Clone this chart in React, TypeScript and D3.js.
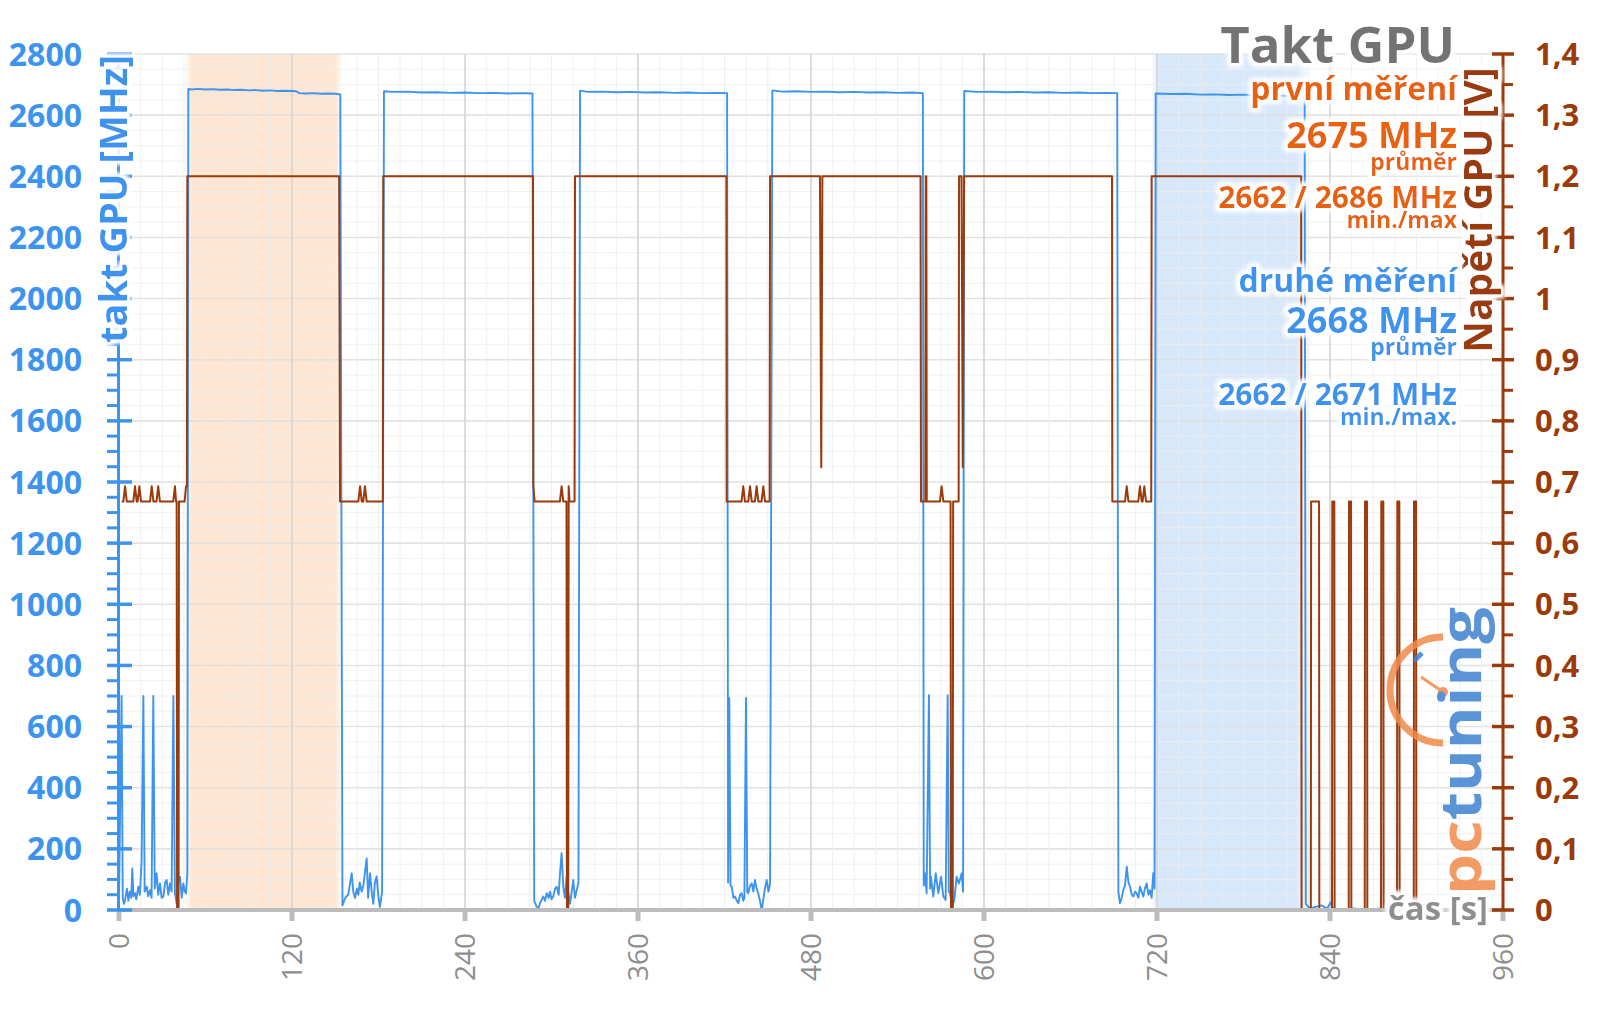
import React from 'react';
import * as d3 from 'd3';

// time [s] / GPU clock [MHz]
const clockIdle1: [number, number][] = [
  [0, 30], [1.8, 700], [2.6, 40], [3.4, 20], [4.2, 33], [5.5, 70], [6.5, 30], [7.5, 60], [8.5, 40], [9.2, 136],
  [10, 45], [11.1, 55], [12, 35], [13.4, 76], [14.5, 50], [15.7, 164], [16.9, 700], [17.8, 60], [19.2, 76],
  [20.3, 45], [21.5, 65], [22.6, 40], [23.8, 700], [24.8, 70], [26.1, 120], [27.2, 50], [28.4, 87], [29.6, 40],
  [30.8, 44], [32, 90], [33.1, 98], [34.2, 50], [35.4, 87], [36.5, 60], [37.7, 700], [38.8, 55], [40, 20],
  [41.2, 100], [42.3, 109], [43.5, 40], [44.6, 87], [45.6, 60], [46.5, 55], [47.4, 120],
];
const clockLoad1: [number, number][] = [
  [48.1, 2686], [50, 2684], [55, 2686], [60, 2684], [65, 2685], [70, 2683], [75, 2684], [80, 2682], [85, 2683],
  [90, 2681], [95, 2682], [100, 2680], [105, 2681], [110, 2679], [115, 2680], [120, 2679], [123, 2678],
  [125, 2672], [130, 2671], [135, 2672], [140, 2670], [145, 2671], [150, 2670], [153.5, 2668],
];
const clockIdle2: [number, number][] = [
  [155, 15], [157, 40], [159, 50], [161.4, 120], [162.5, 60], [163.7, 40], [165, 70], [166, 50], [167, 90],
  [168.3, 60], [169.5, 80], [171.8, 169], [172.8, 40], [174.1, 120], [175.5, 50], [176.4, 20], [177.5, 90],
  [178.7, 110], [180, 40], [181, 10], [182.5, 60],
];
const clockLoad2: [number, number][] = [
  [183.8, 2678], [190, 2676], [200, 2677], [210, 2674], [220, 2675], [230, 2673], [240, 2674], [250, 2672],
  [260, 2673], [270, 2671], [280, 2672], [286.8, 2671],
];
const clockIdle3: [number, number][] = [
  [288, 30], [289.7, 11], [291, 5], [292, 22], [294.3, 44], [295.5, 30], [296.7, 55], [298, 40], [299, 60],
  [300, 35], [301.2, 44], [302.5, 70], [303.6, 76], [305, 50], [305.9, 120], [307, 186], [308.2, 76],
  [309.3, 40], [310.5, 110], [311.5, 60], [312.8, 20], [314, 60], [315.1, 98], [316.3, 40], [317.5, 65],
  [318.7, 90],
];
const clockLoad3: [number, number][] = [
  [319.8, 2680], [325, 2676], [335, 2677], [345, 2675], [355, 2676], [365, 2674], [375, 2675], [385, 2673],
  [395, 2674], [405, 2672], [415, 2673], [421.8, 2672],
];
const clockIdle4: [number, number][] = [
  [422.5, 90], [423.3, 694], [424.2, 80], [425, 76], [426.2, 40], [427.3, 44], [428.5, 30], [429.6, 22],
  [430.8, 50], [431.9, 55], [433, 30], [433.8, 40], [434.9, 694], [435.8, 60], [436.5, 55], [437.8, 80],
  [438.9, 87], [440, 60], [441.1, 98], [442.3, 70], [443.4, 55], [444.6, 30], [445.8, 0], [446.9, 33],
  [448, 70], [449.3, 98], [450.5, 60], [451.6, 87],
];
const clockLoad4: [number, number][] = [
  [453.2, 2681], [460, 2677], [470, 2678], [480, 2676], [490, 2677], [500, 2675], [510, 2676], [520, 2674],
  [530, 2675], [540, 2673], [550, 2674], [557.6, 2672],
];
const clockIdle5: [number, number][] = [
  [558.2, 80], [559, 120], [560.2, 55], [561.8, 703], [562.6, 70], [563.2, 109], [564.8, 44], [566.5, 120],
  [568.3, 55], [570.2, 109], [571.8, 44], [573.4, 33], [574.8, 703], [575.6, 60], [576.4, 55], [578, 11],
  [579.4, 33], [581, 109], [582.6, 87], [584.5, 120], [585.5, 60],
];
const clockLoad5: [number, number][] = [
  [586.3, 2679], [595, 2676], [605, 2677], [615, 2675], [625, 2676], [635, 2674], [645, 2675], [655, 2673],
  [665, 2674], [675, 2672], [685, 2673], [692.4, 2672],
];
const clockIdle6: [number, number][] = [
  [693.2, 60], [694.3, 22], [695.5, 40], [696.6, 65], [697.8, 80], [699, 142], [700.2, 90], [701.3, 76],
  [702.5, 50], [703.6, 44], [704.8, 60], [705.9, 55], [707, 40], [708.2, 76], [709.3, 60], [710.5, 44],
  [711.6, 70], [712.8, 87], [714, 50], [715.1, 65], [716.3, 40], [717.4, 120], [718.3, 70],
];
const clockLoad6: [number, number][] = [
  [719.1, 2671], [730, 2669], [740, 2670], [750, 2667], [760, 2668], [770, 2666], [780, 2667], [790, 2664],
  [800, 2665], [810, 2663], [818, 2662], [822.4, 2660],
];
const clockTail: [number, number][] = [
  [823.2, 20], [826, 5], [830, 10], [834, 15], [838, 5], [840.5, 25], [842, 5], [848, 0], [856, 5], [866, 0], [875, 5],
];

// time [s] / GPU voltage [V]
const voltPart1: [number, number][] = [
  [1.9, 0.668], [3.0, 0.668], [4.2, 0.693], [5.4, 0.668], [9.9, 0.668], [11.1, 0.693], [12.3, 0.668],
  [12.9, 0.668], [14.1, 0.693], [15.3, 0.668], [21.5, 0.668], [22.7, 0.693], [23.9, 0.668], [26.0, 0.668],
  [27.2, 0.693], [28.4, 0.668], [37.6, 0.668], [38.8, 0.693], [39.6, 0.668], [40, 0.668], [40.3, 0], [41.3, 0],
  [41.6, 0.668], [45.5, 0.668], [46.5, 0.693], [47.1, 0.693], [47.4, 1.2], [152.7, 1.2], [153.3, 0.668],
  [166, 0.668], [167.2, 0.693], [168.4, 0.668], [169.4, 0.668], [170.6, 0.693], [171.8, 0.668], [183, 0.668],
  [183.3, 1.2],
];
const voltPart2: [number, number][] = [
  [287.2, 1.2], [287.4, 0.693], [288.3, 0.668], [305.8, 0.668], [307, 0.693], [308.2, 0.668], [310.4, 0.668],
  [310.7, 0], [311.6, 0], [311.9, 0.693], [312.5, 0.668], [316, 0.668], [316.3, 1.2], [421.3, 1.2],
  [421.5, 0.668], [431.8, 0.668], [433, 0.693], [434.2, 0.668], [436.5, 0.668], [437.7, 0.693], [438.9, 0.668],
  [441.1, 0.668], [442.3, 0.693], [443.5, 0.668], [445.7, 0.668], [446.9, 0.693], [448.1, 0.668],
  [451.3, 0.668], [451.6, 1.2],
];
const voltPart3: [number, number][] = [
  [486.2, 1.2], [487.1, 0.724], [487.9, 1.2], [556, 1.2], [556.3, 0.668], [559.3, 0.668], [559.6, 1.2],
  [560, 1.2], [560.3, 0.668], [569.4, 0.668], [570.6, 0.693], [571.8, 0.668], [576.8, 0.668], [577.1, 0],
  [578.3, 0], [578.6, 0.668], [582.4, 0.668], [582.7, 1.2], [584.4, 1.2], [585.3, 0.724], [586.2, 1.2],
  [688.8, 1.2], [689, 0.668], [697.8, 0.668], [699, 0.693], [700.2, 0.668], [707, 0.668], [708.2, 0.693],
  [709.4, 0.668], [710, 0.668], [711.2, 0.693], [712.4, 0.668], [716, 0.668], [716.3, 1.2],
];
const voltTail: [number, number][] = [
  [820, 1.2], [820.3, 0], [826.7, 0], [826.9, 0.668], [832.4, 0.668], [832.6, 0],
  [841.4, 0], [841.6, 0.668], [843, 0.668], [843.2, 0], [853, 0], [853.2, 0.668], [854.6, 0.668], [854.8, 0],
  [864.1, 0], [864.3, 0.668], [865.7, 0.668], [865.9, 0], [875.4, 0], [875.6, 0.668], [877, 0.668], [877.2, 0],
  [886.5, 0], [886.7, 0.668], [888.1, 0.668], [888.3, 0], [898.1, 0], [898.3, 0.668], [899.7, 0.668], [899.9, 0],
];

const firstRun = [48, 152.5];
const secondRun = [718.5, 820.5];

const clockTicks = [0, 200, 400, 600, 800, 1000, 1200, 1400, 1600, 1800, 2000, 2200, 2400, 2600, 2800];
const voltTicks = [0, 0.1, 0.2, 0.3, 0.4, 0.5, 0.6, 0.7, 0.8, 0.9, 1, 1.1, 1.2, 1.3, 1.4];
const voltTickLabels = ['0', '0,1', '0,2', '0,3', '0,4', '0,5', '0,6', '0,7', '0,8', '0,9', '1', '1,1', '1,2', '1,3', '1,4'];
const timeTicks = [0, 120, 240, 360, 480, 600, 720, 840, 960];

const BLUE = '#3d94ef';
const BROWN = '#9b3a0b';
const ORANGE = '#e8620e';
const FONT = "'Open Sans', sans-serif";

export default function App() {
  const x = d3.scaleLinear().domain([0, 960]).range([119, 1503]);
  const yL = d3.scaleLinear().domain([0, 2800]).range([910, 54]);
  const yR = d3.scaleLinear().domain([0, 1.4]).range([910, 54]);

  const clockSeries = [
    ...clockIdle1, ...clockLoad1, ...clockIdle2, ...clockLoad2, ...clockIdle3, ...clockLoad3,
    ...clockIdle4, ...clockLoad4, ...clockIdle5, ...clockLoad5, ...clockIdle6, ...clockLoad6, ...clockTail,
  ];
  const voltSeries = [...voltPart1, ...voltPart2, ...voltPart3, ...voltTail];

  const clockLine = d3.line<[number, number]>().x((d) => x(d[0])).y((d) => yL(d[1]));
  const voltLine = d3.line<[number, number]>().x((d) => x(d[0])).y((d) => yR(d[1]));

  const minorT = d3.range(0, 961, 15);
  const minorC = d3.range(0, 2801, 50);
  const minorV = d3.range(0, 1.401, 0.05);

  const halo = { filter: 'url(#halo)' };

  return (
    <svg width={1600} height={1009} style={{ position: 'absolute', left: 0, top: 0, background: '#fff' }} fontFamily={FONT}>
      <defs>
        <filter id="halo" x="-20%" y="-30%" width="140%" height="160%">
          <feMorphology in="SourceAlpha" operator="dilate" radius="3" result="d" />
          <feGaussianBlur in="d" stdDeviation="2" result="b" />
          <feFlood floodColor="#ffffff" />
          <feComposite in2="b" operator="in" result="w" />
          <feMerge>
            <feMergeNode in="w" />
            <feMergeNode in="w" />
            <feMergeNode in="SourceGraphic" />
          </feMerge>
        </filter>
        <linearGradient id="bandOrange" x1="0" x2="1" y1="0" y2="0">
          <stop offset="0" stopColor="#fde6d3" stopOpacity="0" />
          <stop offset="0.05" stopColor="#fde6d3" />
          <stop offset="0.95" stopColor="#fde6d3" />
          <stop offset="1" stopColor="#fde6d3" stopOpacity="0" />
        </linearGradient>
        <linearGradient id="bandBlue" x1="0" x2="1" y1="0" y2="0">
          <stop offset="0" stopColor="#d8e8fb" stopOpacity="0" />
          <stop offset="0.05" stopColor="#d8e8fb" />
          <stop offset="0.9" stopColor="#d8e8fb" />
          <stop offset="1" stopColor="#d8e8fb" stopOpacity="0" />
        </linearGradient>
      </defs>

      {/* highlighted measurement windows */}
      <rect x={x(firstRun[0]) - 4} y={54} width={x(firstRun[1]) - x(firstRun[0]) + 8} height={856} fill="url(#bandOrange)" />
      <rect x={x(secondRun[0]) - 4} y={54} width={x(secondRun[1]) - x(secondRun[0]) + 14} height={856} fill="url(#bandBlue)" />

      {/* grid */}
      {minorC.map((v) => (
        <line key={'hc' + v} x1={119} x2={1503} y1={yL(v)} y2={yL(v)} stroke={v % 200 === 0 ? '#dedede' : '#eeeeee'} strokeWidth={v % 200 === 0 ? 1.6 : 1} opacity={0.85} />
      ))}
      {minorT.map((t) => (
        <line key={'vt' + t} x1={x(t)} x2={x(t)} y1={54} y2={910} stroke={t % 120 === 0 ? '#d6d6d6' : '#ececec'} strokeWidth={t % 120 === 0 ? 2 : 1} opacity={0.85} />
      ))}

      {/* series */}
      <path d={clockLine(clockSeries) || ''} fill="none" stroke={BLUE} strokeWidth={1.9} strokeLinejoin="round" />
      <path d={voltLine(voltSeries) || ''} fill="none" stroke={BROWN} strokeWidth={2} strokeLinejoin="round" />

      {/* x axis */}
      <line x1={117} x2={1505} y1={910} y2={910} stroke="#bcbcbc" strokeWidth={4} />
      {timeTicks.map((t) => (
        <g key={'xt' + t}>
          <line x1={x(t)} x2={x(t)} y1={910} y2={921} stroke="#bcbcbc" strokeWidth={5} />
          <text transform={`translate(${x(t) + 10},933) rotate(-90)`} textAnchor="end" fontSize={28} fill="#8e8e8e">{t}</text>
        </g>
      ))}

      {/* left axis */}
      <line x1={118.5} x2={118.5} y1={54} y2={910} stroke={BLUE} strokeWidth={3} />
      {minorC.filter((v) => v % 200 !== 0).map((v) => (
        <line key={'lm' + v} x1={107} x2={119} y1={yL(v)} y2={yL(v)} stroke={BLUE} strokeWidth={3} />
      ))}
      {clockTicks.map((v) => (
        <g key={'lt' + v}>
          <line x1={107} x2={132} y1={yL(v)} y2={yL(v)} stroke={BLUE} strokeWidth={3.5} />
          <text x={82} y={yL(v)} dy="0.36em" textAnchor="end" fontSize={32} fontWeight={700} fill={BLUE}>{v}</text>
        </g>
      ))}

      {/* right axis */}
      <line x1={1503} x2={1503} y1={54} y2={910} stroke={BROWN} strokeWidth={3} />
      {minorV.filter((_, i) => i % 2 === 1).map((v) => (
        <line key={'rm' + v.toFixed(2)} x1={1503} x2={1513} y1={yR(v)} y2={yR(v)} stroke={BROWN} strokeWidth={3} />
      ))}
      {voltTicks.map((v, i) => (
        <g key={'rt' + i}>
          <line x1={1492} x2={1514} y1={yR(v)} y2={yR(v)} stroke={BROWN} strokeWidth={3.5} />
          <text x={1535} y={yR(v)} dy="0.36em" textAnchor="start" fontSize={31} fontWeight={700} fill={BROWN}>{voltTickLabels[i]}</text>
        </g>
      ))}

      {/* axis titles */}
      <text transform="translate(127,199) rotate(-90)" textAnchor="middle" fontSize={38} fontWeight={700} fill={BLUE} style={halo}>takt GPU [MHz]</text>
      <text transform="translate(1492,210) rotate(-90)" textAnchor="middle" fontSize={39} fontWeight={700} fill={BROWN} style={halo}>Napětí GPU [V]</text>
      <text x={1488} y={920} textAnchor="end" fontSize={33} fontWeight={700} fill="#8e8e8e" style={halo}>čas [s]</text>

      {/* logo */}
      <g opacity={0.85}>
        <path d="M 1443 637 A 53 53 0 0 0 1443 743" fill="none" stroke="#f28a4a" strokeWidth={7} />
        <line x1={1414} y1={661} x2={1422} y2={653} stroke="#3f82cf" strokeWidth={5} />
        <line x1={1421} y1={677} x2={1443} y2={692} stroke="#f28a4a" strokeWidth={3} />
        <circle cx={1443} cy={692} r={5} fill="#f28a4a" />
        <text transform="translate(1481,895) rotate(-90)" fontSize={58} fontWeight={700} textLength={288} lengthAdjust="spacingAndGlyphs">
          <tspan fill="#f28a4a">pc</tspan>
          <tspan fill="#3f82cf">tuning</tspan>
        </text>
      </g>

      {/* title and summary */}
      <g textAnchor="end" fontWeight={700} style={halo}>
        <text x={1455} y={63} fontSize={51} fill="#737373">Takt GPU</text>
        <text x={1457} y={100} fontSize={32} fill={ORANGE}>první měření</text>
        <text x={1457} y={148} fontSize={36} fill={ORANGE}>2675 MHz</text>
        <text x={1457} y={170} fontSize={23} fill={ORANGE}>průměr</text>
        <text x={1457} y={208} fontSize={30} fill={ORANGE}>2662 / 2686 MHz</text>
        <text x={1457} y={228} fontSize={23} fill={ORANGE}>min./max</text>
        <text x={1457} y={292} fontSize={32} fill={BLUE}>druhé měření</text>
        <text x={1457} y={333} fontSize={36} fill={BLUE}>2668 MHz</text>
        <text x={1457} y={355} fontSize={23} fill={BLUE}>průměr</text>
        <text x={1457} y={405} fontSize={30} fill={BLUE}>2662 / 2671 MHz</text>
        <text x={1457} y={425} fontSize={23} fill={BLUE}>min./max.</text>
      </g>
    </svg>
  );
}
